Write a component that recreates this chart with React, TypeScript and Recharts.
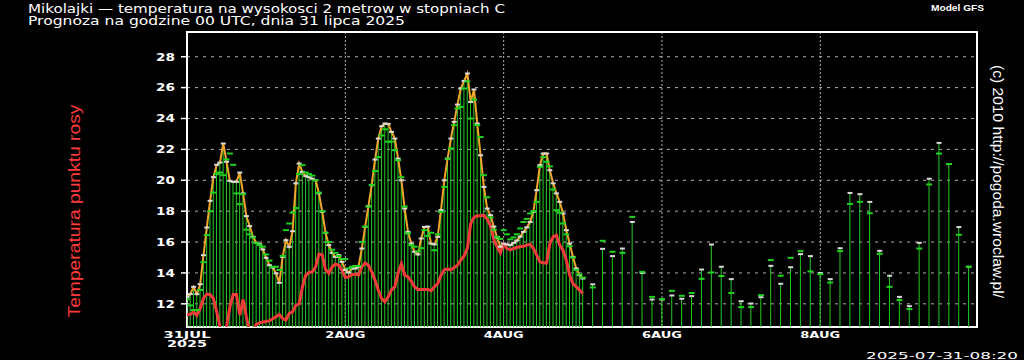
import React from 'react';
import { ComposedChart, Bar, Line, XAxis, YAxis, CartesianGrid, ReferenceArea } from 'recharts';

// Hourly forecast (hours 0..120 from 31 JUL 00 UTC)
const hourlyTemp = [
  12.45, 12.63, 13.1, 12.63, 13.27, 15.15, 16.94, 18.67, 20.2, 21.0,
  21.15, 22.38, 21.2, 19.96, 19.9, 19.9, 20.5, 19.15, 17.68, 17.03,
  16.34, 15.95, 15.86, 15.52, 14.98, 14.5, 14.35, 13.97, 13.36, 15.04,
  16.12, 15.69, 16.7, 19.8, 21.08, 20.54, 20.27, 20.2, 20.1, 20.0,
  19.15, 17.96, 16.6, 15.8, 15.3, 15.04, 15.15, 14.72, 14.2, 14.03,
  14.29, 14.29, 14.4, 15.58, 16.98, 18.32, 19.68, 21.34, 22.7, 23.5,
  23.67, 23.65, 23.13, 22.7, 21.4, 20.0, 18.17, 16.66, 15.9, 15.37,
  15.2, 16.23, 16.98, 17.0, 15.9, 15.85, 16.34, 18.07, 20.0, 21.4,
  22.7, 23.78, 24.9, 25.94, 26.43, 26.91, 25.07, 25.88, 23.67, 21.62,
  19.57, 18.17, 17.74, 17.0, 16.3, 15.7, 15.9, 15.85, 15.8, 15.95,
  16.1, 16.35, 16.66, 16.95, 17.3, 17.96, 19.36, 20.98, 21.73, 21.73,
  20.65, 19.8, 19.15, 18.6, 17.85, 16.77, 15.9, 15.04, 14.29, 13.86,
  13.64,
];

const hourlyDew = [
  11.31, 11.31, 11.48, 11.25, 11.7, 12.35, 12.63, 12.6, 12.35, 11.48,
  10.5, 10.1, 10.5, 11.8, 12.6, 12.6, 11.27, 12.28, 11.16, 10.2,
  10.3, 10.67, 10.77, 10.82, 10.86, 10.9, 11.03, 11.16, 11.31, 11.05,
  10.95, 11.38, 11.48, 11.9, 12.0, 13.1, 13.86, 14.03, 14.07, 14.4,
  15.22, 15.16, 14.22, 13.97, 14.4, 14.57, 14.5, 14.18, 13.7, 13.74,
  13.9, 13.92, 13.86, 14.4, 14.65, 14.5, 14.07, 13.53, 12.89, 12.35,
  12.13, 12.45, 12.9, 13.1, 14.0, 14.6, 13.86, 13.75, 13.45, 13.1,
  12.93, 12.93, 12.93, 12.93, 12.85, 13.1, 13.3, 13.86, 14.2, 14.25,
  14.2, 14.35, 14.5, 14.83, 15.1, 15.6, 17.2, 17.6, 17.7, 17.7,
  17.74, 17.5, 17.05, 16.2, 15.69, 15.3, 15.86, 15.58, 15.5, 15.58,
  15.65, 15.7, 15.73, 15.8, 15.86, 15.6, 15.15, 14.72, 14.65, 14.65,
  15.9, 16.34, 16.45, 15.8, 15.47, 14.83, 13.86, 13.32, 13.1, 12.89,
  12.67,
];

const hourlyAlt = [
  12.3, 11.9, 11.6, 11.6, 12.9, 14.7, 16.45, 18.0, 19.2, 20.4,
  20.5, 20.33, 21.35, 21.73, 21.0, 19.15, 18.45, 19.1, 16.8, 16.5,
  16.3, 15.95, 15.8, 15.7, 15.2, 14.8, 14.4, 14.4, 14.2, 15.1,
  16.77, 17.2, 17.9, 18.2, 20.4, 20.98, 20.5, 20.4, 20.3, 20.0,
  19.2, 18.0, 16.6, 16.0, 15.5, 15.3, 15.1, 14.9, 14.9, 14.3,
  14.4, 14.45, 14.45, 16.0, 17.0, 18.3, 19.7, 20.6, 21.5, 22.9,
  23.3, 22.5, 22.5, 21.95, 21.3, 20.2, 18.3, 16.56, 15.8, 15.7,
  15.4, 15.6, 16.77, 16.4, 16.6, 15.47, 16.5, 17.96, 19.57, 21.4,
  22.06, 23.57, 24.65, 24.75, 25.94, 26.4, 24.0, 25.23, 23.57, 22.8,
  20.33, 18.9, 17.6, 16.8, 16.34, 16.2, 16.77, 16.5, 16.17, 16.3,
  16.5, 16.88, 17.3, 17.5, 17.85, 18.0, 18.6, 20.87, 21.5, 21.2,
  20.9, 19.4, 18.06, 17.9, 17.2, 16.5, 15.73, 15.0, 14.2, 13.9,
  13.7,
];

// 3-hourly forecast (hours 123..237)
const threeHourTemp = [
  13.26, 15.56, 15.09, 15.58, 17.3, 14.0, 12.28, 12.28, 12.54, 12.33,
  12.5, 14.22, 15.84, 14.4, 13.6, 12.17, 12.02, 12.43, 14.46, 13.3,
  14.37, 15.22, 15.09, 14.0, 13.6, 15.6, 19.18, 19.1, 18.6, 15.43,
  13.82, 12.45, 11.85, 15.95, 20.1, 22.42, 21.05, 16.97, 14.4,
];
const threeHourAlt = [
  13.06, 16.08, 15.37, 15.3, 17.63, 14.07, 12.45, 12.3, 12.84, 12.52,
  12.7, 13.62, 14.03, 13.8, 12.7, 11.79, 11.79, 12.56, 14.83, 13.82,
  14.98, 15.41, 14.1, 13.92, 13.38, 15.41, 18.47, 18.6, 17.87, 15.24,
  13.1, 12.24, 11.66, 15.58, 19.73, 21.73, 21.05, 16.47, 14.4,
];

const hourlyHours = hourlyTemp.map((_, i) => i);
const threeHourHours = threeHourTemp.map((_, i) => 123 + 3 * i);

const xTicks = [0, 48, 96, 144, 192];
const xTickLabels = ['31JUL', '2AUG', '4AUG', '6AUG', '8AUG'];
const xTickSubLabels = ['2025', '', '', '', ''];
const yTicks = [12, 14, 16, 18, 20, 22, 24, 26, 28];
const yMinorTicks = Array.from({ length: 96 }, (_, i) => 10.5 + i * 0.2);

const Y_DOMAIN: [number, number] = [10.5, 29.6];
const X_DOMAIN: [number, number] = [0, 239.5];

const data = [
  ...hourlyHours.map((h, i) => ({
    h,
    temp: hourlyTemp[i],
    dew: hourlyDew[i],
    stem: hourlyTemp[i],
    cap: hourlyTemp[i],
    alt: hourlyAlt[i],
  })),
  ...threeHourHours.map((h, i) => ({
    h,
    temp: null,
    dew: null,
    stem: threeHourTemp[i],
    cap: threeHourTemp[i],
    alt: threeHourAlt[i],
  })),
];

const TICK_FONT = '"DejaVu Sans", sans-serif';

const XTick = (props: any) => {
  const { x, y, index } = props;
  const label = xTickLabels[index] ?? '';
  const sub = xTickSubLabels[index] ?? '';
  const w = label.length === 5 ? 47 : 40;
  return (
    <g>
      <text x={x} y={y + 11.3} fill="#fff" fontFamily={TICK_FONT} fontWeight="bold" fontSize={8.6}
        textAnchor="middle" textLength={w} lengthAdjust="spacingAndGlyphs">{label}</text>
      {sub ? (
        <text x={x} y={y + 20} fill="#fff" fontFamily={TICK_FONT} fontWeight="bold" fontSize={8.6}
          textAnchor="middle" textLength={40} lengthAdjust="spacingAndGlyphs">{sub}</text>
      ) : null}
    </g>
  );
};

const YTick = (props: any) => {
  const { x, y, payload } = props;
  return (
    <text x={x} y={y + 3.8} fill="#fff" fontFamily={TICK_FONT} fontWeight="bold" fontSize={10}
      textAnchor="end" textLength={19} lengthAdjust="spacingAndGlyphs">{String(payload.value)}</text>
  );
};

const CapDot = (props: any) => {
  const { cx, cy, index } = props;
  if (cy == null || !isFinite(cy) || cx == null) return <g key={`c${index}`} />;
  return <rect key={`c${index}`} x={cx - 2.5} y={cy - 1} width={5} height={2} fill="#d9d9d9" />;
};

const AltDot = (props: any) => {
  const { cx, cy, index } = props;
  if (cy == null || !isFinite(cy) || cx == null) return <g key={`a${index}`} />;
  return <rect key={`a${index}`} x={cx - 3} y={cy - 1} width={6} height={2} fill="#1fd21f" />;
};

export default function App() {
  return (
    <div style={{ position: 'absolute', left: 0, top: 0, width: 1024, height: 360, background: '#000', overflow: 'hidden' }}>
      <ComposedChart width={1024} height={360} data={data} margin={{ top: 32, right: 47, bottom: 0, left: 0 }}>
        <CartesianGrid horizontal vertical={false} stroke="#b0b0b0" strokeDasharray="3 5" />
        <CartesianGrid horizontal={false} vertical stroke="#b0b0b0" strokeDasharray="2 2" />
        <XAxis dataKey="h" type="number" domain={X_DOMAIN} ticks={xTicks} interval={0} height={33}
          allowDataOverflow axisLine={false} tickLine={false} tickSize={0} tickMargin={0} tick={<XTick />} />
        <YAxis type="number" domain={Y_DOMAIN} ticks={yTicks} interval={0} width={187} allowDataOverflow
          axisLine={false} tickLine={{ stroke: '#fff', strokeWidth: 1.5 }} tickSize={6} tickMargin={6} tick={<YTick />} />
        <YAxis yAxisId="minor" type="number" domain={Y_DOMAIN} ticks={yMinorTicks} interval={0} width={0} mirror
          allowDataOverflow axisLine={false} tickLine={{ stroke: '#9a9a9a' }} tickSize={3} tick={false} />
        <Bar dataKey="stem" barSize={1} fill="#22cc22" isAnimationActive={false} />
        <Line dataKey="temp" type="linear" stroke="#f2a52a" strokeWidth={2} dot={false} activeDot={false}
          connectNulls={false} isAnimationActive={false} />
        <Line dataKey="dew" type="linear" stroke="#f23c3c" strokeWidth={3} dot={false} activeDot={false}
          connectNulls={false} isAnimationActive={false} />
        <Line dataKey="cap" stroke="none" dot={CapDot} activeDot={false} isAnimationActive={false} />
        <Line dataKey="alt" stroke="none" dot={AltDot} activeDot={false} isAnimationActive={false} />
        <ReferenceArea x1={X_DOMAIN[0]} x2={X_DOMAIN[1]} y1={Y_DOMAIN[0]} y2={Y_DOMAIN[1]} fill="none"
          stroke="#fff" strokeWidth={2} />
      </ComposedChart>
      <svg width={1024} height={360} style={{ position: 'absolute', left: 0, top: 0, pointerEvents: 'none' }}>
        <text x={28} y={12.7} fill="#fff" fontFamily='"DejaVu Sans", sans-serif' fontSize={12}
          textLength={477} lengthAdjust="spacingAndGlyphs">Mikolajki — temperatura na wysokosci 2 metrow w stopniach C</text>
        <text x={28} y={25.3} fill="#fff" fontFamily='"DejaVu Sans", sans-serif' fontSize={12}
          textLength={377} lengthAdjust="spacingAndGlyphs">Prognoza na godzine 00 UTC, dnia 31 lipca 2025</text>
        <text x={931} y={10.7} fill="#fff" fontFamily='"Liberation Sans", Arial, sans-serif' fontWeight="bold" fontSize={9}
          textLength={53} lengthAdjust="spacingAndGlyphs">Model GFS</text>
        <text x={998} y={181.5} fill="#fff" fontFamily='"Liberation Sans", Arial, sans-serif' fontSize={14}
          textAnchor="middle" dominantBaseline="central" textLength={233} lengthAdjust="spacingAndGlyphs"
          transform="rotate(90 998 181.5)">(c) 2010 http://pogoda.wroclaw.pl/</text>
        <text x={74} y={211} fill="#ff3a3a" fontFamily='"Liberation Sans", Arial, sans-serif' fontSize={16}
          textAnchor="middle" dominantBaseline="central" textLength={213} lengthAdjust="spacingAndGlyphs"
          transform="rotate(-90 74 211)">Temperatura punktu rosy</text>
        <text x={866} y={358.5} fill="#fff" fontFamily={TICK_FONT} fontSize={8.5}
          textLength={152} lengthAdjust="spacingAndGlyphs">2025-07-31-08:20</text>
      </svg>
    </div>
  );
}
